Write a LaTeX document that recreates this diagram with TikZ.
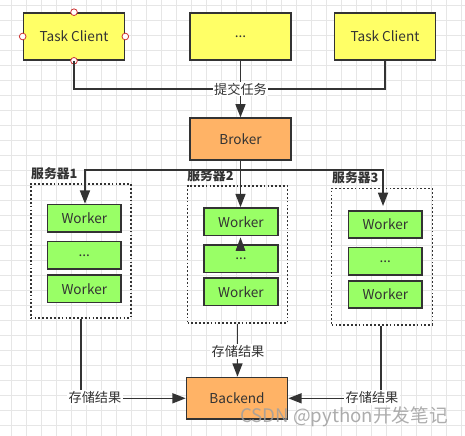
\documentclass[tikz,border=0pt]{standalone}
\usepackage{fontspec}
\setmainfont{Noto Sans CJK SC}
\usetikzlibrary{arrows.meta}
\definecolor{tcy}{HTML}{FFFF66}
\definecolor{brk}{HTML}{FFB366}
\definecolor{wkg}{HTML}{99FF66}
\definecolor{ink}{HTML}{333333}
\definecolor{gridc}{HTML}{E6E6E6}
\definecolor{hnd}{HTML}{CC3333}
\begin{document}
\begin{tikzpicture}[x=0.75pt,y=-0.75pt,
  box/.style={draw=ink, line width=1.2pt, text=ink, font=\fontsize{10.2pt}{12pt}\selectfont, inner sep=0pt},
  client/.style={box, fill=tcy, minimum width=75.75pt, minimum height=35.25pt},
  store/.style={box, fill=brk, minimum width=75.75pt, minimum height=31.25pt},
  worker/.style={box, fill=wkg, minimum width=55.1pt, minimum height=20.6pt},
  server/.style={draw=ink, line width=1.2pt, dash pattern=on 1.3pt off 1.6pt, inner sep=0pt},
  srvlab/.style={text=ink, font=\fontsize{9.6pt}{11pt}\selectfont\bfseries, inner sep=0pt, anchor=south west},
  conn/.style={draw=ink, line width=1.2pt},
  arr/.style={conn, -{Triangle[length=10pt,width=7.5pt]}},
  lab/.style={fill=white, text=ink, font=\fontsize{9.9pt}{11pt}\selectfont, inner sep=1pt},
  handle/.style={circle, draw=hnd, fill=white, line width=0.6pt, minimum size=5pt, inner sep=0pt}
]
\useasboundingbox (0,0) rectangle (465,436);
\fill[white] (0,0) rectangle (465,436);
% grid
\foreach \k in {0,...,30} \draw[gridc, line width=0.7pt] ({11.7+15*\k},0) -- ({11.7+15*\k},436);
\foreach \k in {0,...,28} \draw[gridc, line width=0.7pt] (0,{5+15*\k}) -- (465,{5+15*\k});

% clients
\node[client] (tc1) at (74,36.5) {Task Client};
\node[client] (tc2) at (240.5,36.5) {...};
\node[client] (tc3) at (385,36.5) {Task Client};
\node[handle] at (tc1.north) {};
\node[handle] at (tc1.south) {};
\node[handle] at (tc1.west) {};
\node[handle] at (tc1.east) {};

% broker
\node[store] (broker) at (240.5,139) {Broker};

% servers
\node[server, minimum width=75pt, minimum height=100.5pt] (s1) at (80.7,251) {};
\node[server, minimum width=75pt, minimum height=102.75pt] (s2) at (237.5,254.3) {};
\node[server, minimum width=75.5pt, minimum height=102.5pt] (s3) at (382,256.7) {};
\node[srvlab] (l1) at ([xshift=0.8pt,yshift=2.5pt]s1.north west) {服务器1};
\node[srvlab] (l2) at ([xshift=0.3pt,yshift=2.5pt]s2.north west) {服务器2};
\node[srvlab] (l3) at ([xshift=0.8pt,yshift=2.5pt]s3.north west) {服务器3};

% workers
\node[worker] (w11) at (84.3,218.3) {Worker};
\node[worker] (w12) at (84.3,255.3) {...};
\node[worker] (w13) at (84.3,288.7) {Worker};
\node[worker] (w21) at (241,221.7) {Worker};
\node[worker] (w22) at (241,258.7) {...};
\node[worker] (w23) at (241,291.7) {Worker};
\node[worker] (w31) at (385.3,224.5) {Worker};
\node[worker] (w32) at (385.3,261.3) {...};
\node[worker] (w33) at (385.3,294.5) {Worker};

% backend
\node[store] (backend) at (237,398.3) {Backend};

% clients -> broker
\coordinate (j1) at (240.5,89);
\draw[conn] (tc1.south) |- (j1);
\draw[conn] (tc3.south) |- (j1);
\draw[arr] (tc2.south) -- (broker.north);
\node[lab] (submit) at (j1) {提交任务};

% broker -> servers
\coordinate (j2) at (240.5,170);
\draw[conn] (broker.south) -- (j2);
\draw[arr] (j2) -| ([xshift=0.5pt]w11.north);
\draw[arr] (j2) -- (w21.north -| j2);
\draw[arr] (j2) -| ([xshift=-1.7pt,yshift=3pt]w31.north);

% stray arrowhead inside server 2
\fill[ink] (w21.south -| j2) ++(0,1.2) -- ++(-5,13.5) -- ++(10,0) -- cycle;

% servers -> backend
\draw[arr] (s1.south) |- (backend.west);
\draw[arr] (s2.south) -- (backend.north -| s2.south);
\draw[arr] ([xshift=-0.7pt]s3.south) |- (backend.east);
\node[lab] (st1) at (95,397.7) {存储结果};
\node[lab] (st2) at (238,351.7) {存储结果};
\node[lab] (st3) at (372,397.7) {存储结果};

% watermark
\node[text=gray!75, opacity=0.85, font=\fontsize{14pt}{16pt}\selectfont, inner sep=0pt] (wm) at (344,416.7) {CSDN @python开发笔记};
\end{tikzpicture}
\end{document}
